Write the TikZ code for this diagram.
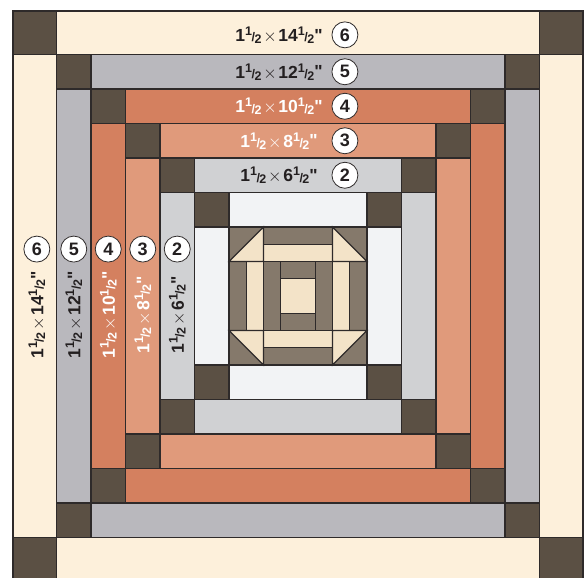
\documentclass[tikz,border=0pt]{standalone}
\usepackage{fontspec}
\setmainfont{Liberation Sans}
\newfontfamily\qtfont{Liberation Sans}
\definecolor{dk}{HTML}{5B5044}
\definecolor{ln}{HTML}{2E2A2A}
\definecolor{tp}{HTML}{85796B}
\definecolor{cr}{HTML}{F3E3C8}
\definecolor{wh}{HTML}{F2F3F5}
\definecolor{gl}{HTML}{D0D1D3}
\definecolor{sl}{HTML}{E09A7B}
\definecolor{sd}{HTML}{D4805F}
\definecolor{gd}{HTML}{B9B8BD}
\definecolor{bg}{HTML}{FDF0DB}
\definecolor{tx}{HTML}{231F20}
\newcommand{\smf}{\fontsize{12.5}{13}\selectfont}
\newcommand{\hf}[1]{#1\raisebox{.36em}{\smf 1}\kern-.03em{\smf\raisebox{-.02em}{/}}\kern-.03em\raisebox{-.1em}{\smf 2}}
\newcommand{\szlab}[1]{\hf{1}\kern.1em{\mdseries\fontsize{18}{19}\selectfont$\times$}\kern.1em\hf{#1}{\qtfont\bfseries\raisebox{.02em}{"}}}
\begin{document}
\begin{tikzpicture}[x=34.5pt, y=34.5pt,
    pc/.style={draw=ln, line width=1.2pt, line join=miter},
    lb/.style={font=\bfseries\fontsize{17.5}{19}\selectfont, inner sep=0pt},
    nm/.style={circle, draw=ln, line width=.8pt, fill=white, minimum size=26pt,
        inner sep=0pt, font=\bfseries\fontsize{18}{19}\selectfont, text=tx}]
\useasboundingbox (-8.638,-8.145) rectangle (8.319,8.58);
\clip (-8.638,-8.145) rectangle (8.319,8.58);
% log cabin rings
\foreach \i/\o/\c in {2/3/wh, 3/4/gl, 4/5/sl, 5/6/sd, 6/7/gd, 7/8.26/bg} {
    \draw[pc, fill=\c] (-\i,\i) rectangle (\i,\o);
    \draw[pc, fill=\c] (-\i,-\i) rectangle (\i,-\o);
    \draw[pc, fill=\c] (-\o,-\i) rectangle (-\i,\i);
    \draw[pc, fill=\c] (\i,-\i) rectangle (\o,\i);
    \draw[pc, fill=dk] (-\o,\i) rectangle (-\i,\o);
    \draw[pc, fill=dk] (\i,\i) rectangle (\o,\o);
    \draw[pc, fill=dk] (-\o,-\o) rectangle (-\i,-\i);
    \draw[pc, fill=dk] (\i,-\o) rectangle (\o,-\i);
}
% center block
\draw[pc, fill=tp] (-2,-2) rectangle (2,2);
\draw[pc] (-1,-2) -- (-1,2) (1,-2) -- (1,2) (-2,1) -- (2,1) (-2,-1) -- (2,-1);
\draw[pc, fill=cr] (-.5,-.5) rectangle (.5,.5);
\draw[pc] (-.5,-1) -- (-.5,1) (.5,-1) -- (.5,1);
\draw[pc, fill=cr] (-1,1) rectangle (1,1.5);
\draw[pc, fill=cr] (-1,-1) rectangle (1,-1.5);
\draw[pc, fill=cr] (-1.5,-1) rectangle (-1,1);
\draw[pc, fill=cr] (1,-1) rectangle (1.5,1);
\draw[pc, fill=cr] (-2,1) -- (-1,2) -- (-1,1) -- cycle;
\draw[pc, fill=cr] (2,1) -- (1,2) -- (1,1) -- cycle;
\draw[pc, fill=cr] (-2,-1) -- (-1,-2) -- (-1,-1) -- cycle;
\draw[pc, fill=cr] (2,-1) -- (1,-2) -- (1,-1) -- cycle;
% sizes and numbers
\foreach \n/\s/\p/\t in {6/14/7.57/tx, 5/12/6.5/tx, 4/10/5.5/white, 3/8/4.5/white, 2/6/3.5/tx} {
    \node[lb, text=\t] (top\n) at (-.55,\p) {\szlab{\s}};
    \node[nm] (ct\n) at (1.36,\p) {\n};
    \node[lb, text=\t, rotate=90] (lft\n) at (-\p,-.55) {\szlab{\s}};
    \node[nm] (cl\n) at (-\p,1.36) {\n};
}
\end{tikzpicture}
\end{document}
